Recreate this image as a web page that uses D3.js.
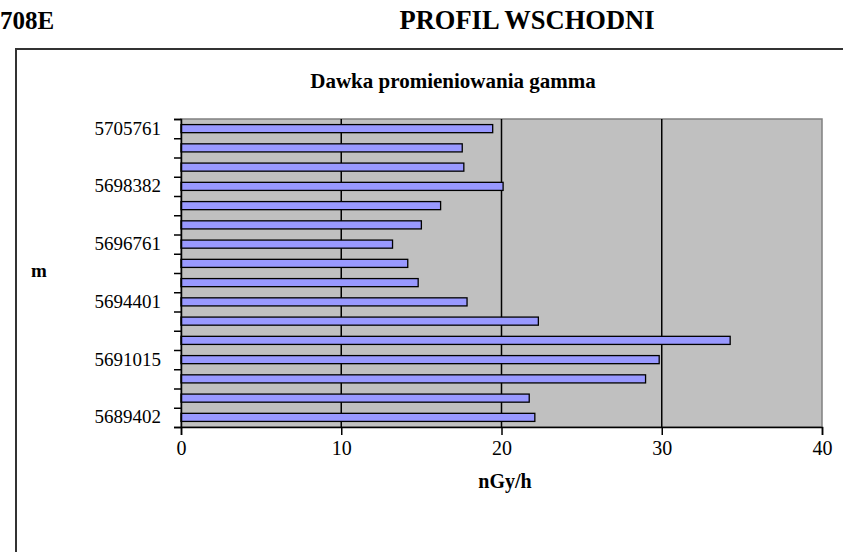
<!DOCTYPE html>
<html>
<head>
<meta charset="utf-8">
<script src="https://cdn.jsdelivr.net/npm/d3@7"></script>
<style>
  body { margin: 0; background: #fff; }
  text { font-family: "Liberation Serif", "Times New Roman", serif; }
</style>
</head>
<body>
<div id="chart"></div>
<script>
// dose per measuring point, top to bottom as drawn
const doses = [19.45, 17.55, 17.65, 20.1, 16.2, 15.0, 13.2, 14.15, 14.8, 17.85, 22.3, 34.27, 29.84, 28.99, 21.73, 22.08];
// only every third point is labelled on the axis
const pointLabels = ["5705761", "", "", "5698382", "", "", "5696761", "", "", "5694401", "", "", "5691015", "", "", "5689402"];
const xTicks = [0, 10, 20, 30, 40];

const width = 843,
    height = 552,
    plot = { left: 181, right: 822, top: 119, bottom: 427 };

const svg = d3
    .select("#chart")
    .append("svg")
    .attr("width", width)
    .attr("height", height);

// page header
svg.append("text")
    .attr("x", 0)
    .attr("y", 29)
    .attr("font-size", 25)
    .attr("font-weight", "bold")
    .text("708E");
svg.append("text")
    .attr("x", 527)
    .attr("y", 29)
    .attr("text-anchor", "middle")
    .attr("font-size", 26.5)
    .attr("font-weight", "bold")
    .text("PROFIL WSCHODNI");

// chart frame (top + left edge visible)
svg.append("path")
    .attr("d", `M16,${height} V49 H${width}`)
    .attr("fill", "none")
    .attr("stroke", "#333")
    .attr("stroke-width", 2);

svg.append("text")
    .attr("x", 453)
    .attr("y", 88)
    .attr("text-anchor", "middle")
    .attr("font-size", 21)
    .attr("font-weight", "bold")
    .text("Dawka promieniowania gamma");

const x = d3.scaleLinear().domain([0, 40]).range([plot.left, plot.right]);
const y = d3
    .scaleBand()
    .domain(d3.range(doses.length))
    .range([plot.top, plot.bottom])
    .paddingInner(0.58)
    .paddingOuter(0.29);
const yEdge = d3.scaleLinear().domain([0, doses.length]).range([plot.top, plot.bottom]);

// plot background
svg.append("rect")
    .attr("x", plot.left)
    .attr("y", plot.top)
    .attr("width", plot.right - plot.left)
    .attr("height", plot.bottom - plot.top)
    .attr("fill", "#c0c0c0")
    .attr("stroke", "#808080")
    .attr("stroke-width", 1.5);

// vertical gridlines
svg.append("g")
    .selectAll("line")
    .data(xTicks.slice(1, -1))
    .join("line")
    .attr("x1", (d) => x(d))
    .attr("x2", (d) => x(d))
    .attr("y1", plot.top)
    .attr("y2", plot.bottom)
    .attr("stroke", "#000")
    .attr("stroke-width", 1.5);

// bars
svg.append("g")
    .selectAll("rect")
    .data(doses)
    .join("rect")
    .attr("x", x(0))
    .attr("y", (d, i) => y(i))
    .attr("width", (d) => x(d) - x(0))
    .attr("height", y.bandwidth())
    .attr("fill", "#9999ff")
    .attr("stroke", "#000")
    .attr("stroke-width", 1.3);

// x axis
const xAxis = svg.append("g")
    .attr("transform", `translate(0,${plot.bottom})`)
    .call(d3.axisBottom(x).tickValues(xTicks).tickSize(8).tickPadding(6));
xAxis.select(".domain").attr("stroke-width", 1.5);
xAxis.selectAll(".tick line").attr("stroke-width", 1.5);
xAxis.selectAll("text")
    .attr("font-size", 20)
    .attr("font-family", "Liberation Serif, serif")
    .attr("fill", "#000");

// y axis: ticks between categories, labels at categories
const yTickAxis = svg.append("g")
    .attr("transform", `translate(${plot.left},0)`)
    .call(d3.axisLeft(yEdge).ticks(doses.length).tickSize(7).tickFormat(""));
yTickAxis.select(".domain").attr("stroke-width", 1.5);
yTickAxis.selectAll(".tick line").attr("stroke-width", 1.5);

const yLabelAxis = svg.append("g")
    .attr("transform", `translate(${plot.left},0)`)
    .call(d3.axisLeft(y).tickSize(0).tickPadding(20).tickFormat((i) => pointLabels[i]));
yLabelAxis.select(".domain").remove();
yLabelAxis.selectAll("text")
    .attr("font-size", 19)
    .attr("font-family", "Liberation Serif, serif")
    .attr("fill", "#000");

// axis titles
svg.append("text")
    .attr("x", 39)
    .attr("y", 277)
    .attr("text-anchor", "middle")
    .attr("font-size", 19)
    .attr("font-weight", "bold")
    .text("m");
svg.append("text")
    .attr("x", 505)
    .attr("y", 488)
    .attr("text-anchor", "middle")
    .attr("font-size", 20)
    .attr("font-weight", "bold")
    .text("nGy/h");
</script>
</body>
</html>
